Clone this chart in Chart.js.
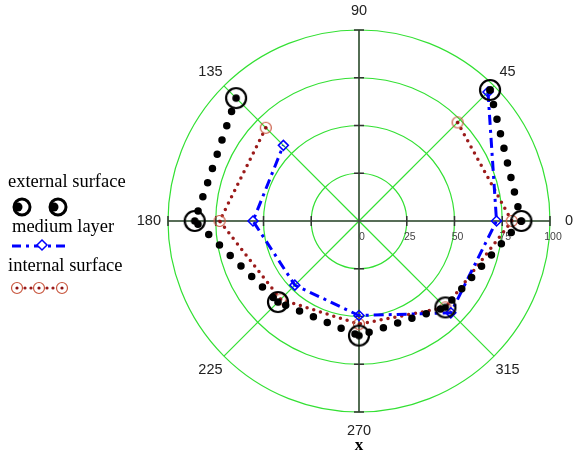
<!DOCTYPE html>
<html>
<head>
<meta charset="utf-8">
<script src="https://cdn.jsdelivr.net/npm/chart.js@4.4.0/dist/chart.umd.min.js"></script>
<style>
  html, body { margin: 0; padding: 0; background: #fff; }
  #wrap { position: relative; width: 573px; height: 457px; }
</style>
</head>
<body>
<div id="wrap"><canvas id="polar" width="573" height="457"></canvas></div>
<script>
// angles run clockwise from the top, the way the radar scale lays them out
const angleLabels = ['90', '45', '0', '315', '270', '225', '180', '135'];
const radialTicks = [0, 25, 50, 75, 100];

// radius at each 45 deg step (nothing at 90)
const externalSurface = [null, 97, 85, 64, 60, 60, 86, 91];
const mediumLayer     = [null, 95.5, 72, 68, 49.5, 47.5, 55.5, 56];
const internalSurface = [null, 73, 80, 64, 54, 58, 73, 69];

const seriesNames = ['external surface', 'medium layer', 'internal surface'];

const GREEN = '#33e033';
const AXIS = '#444';

function ringMarker(size, r, lw, ringColor, dotR, dotColor) {
    const c = document.createElement('canvas');
    c.width = size; c.height = size;
    const g = c.getContext('2d');
    g.strokeStyle = ringColor; g.lineWidth = lw;
    g.beginPath(); g.arc(size / 2, size / 2, r, 0, Math.PI * 2); g.stroke();
    if (dotR) {
        g.fillStyle = dotColor;
        g.beginPath(); g.arc(size / 2, size / 2, dotR, 0, Math.PI * 2); g.fill();
    }
    return c;
}
const extMarker = ringMarker(26, 10, 2.2, '#000', 3.8, '#000');
const intMarker = ringMarker(16, 5.5, 1.2, '#c8563e', 1.6, '#8b1010');

const polarDecor = {
    id: 'polarDecor',
    beforeDatasetsDraw(chart) {
        const r = chart.scales.r;
        const ctx = chart.ctx;
        const cx = r.xCenter, cy = r.yCenter;
        const R = r.getDistanceFromCenterForValue(100);
        ctx.save();
        // the 0-180 and 90-270 axes
        ctx.strokeStyle = AXIS;
        ctx.lineWidth = 1.5;
        ctx.beginPath();
        ctx.moveTo(cx - R, cy); ctx.lineTo(cx + R, cy);
        ctx.moveTo(cx, cy - R); ctx.lineTo(cx, cy + R);
        ctx.stroke();
        // small ticks where rings cross the axes
        ctx.strokeStyle = '#333';
        radialTicks.slice(1).forEach(v => {
            const d = r.getDistanceFromCenterForValue(v);
            ctx.beginPath();
            ctx.moveTo(cx + d, cy - 5); ctx.lineTo(cx + d, cy + 5);
            ctx.moveTo(cx - d, cy - 5); ctx.lineTo(cx - d, cy + 5);
            ctx.moveTo(cx - 5, cy - d); ctx.lineTo(cx + 5, cy - d);
            ctx.moveTo(cx - 5, cy + d); ctx.lineTo(cx + 5, cy + d);
            ctx.stroke();
        });
        // radial values under the 0 axis
        ctx.fillStyle = '#444';
        ctx.font = '10.5px "Liberation Sans", Arial, sans-serif';
        ctx.textAlign = 'center';
        ctx.textBaseline = 'middle';
        radialTicks.forEach(v => {
            const d = r.getDistanceFromCenterForValue(v);
            ctx.fillText(String(v), cx + d + 3, cy + 16);
        });
        ctx.restore();
    },
    afterDraw(chart) {
        const r = chart.scales.r;
        const ctx = chart.ctx;
        ctx.save();
        // angle labels outside the outer ring
        ctx.fillStyle = '#222';
        ctx.font = '14.5px "Liberation Sans", Arial, sans-serif';
        ctx.textAlign = 'center';
        ctx.textBaseline = 'middle';
        angleLabels.forEach((lab, i) => {
            const p = r.getPointPositionForValue(i, 110);
            ctx.fillText(lab, p.x, p.y);
        });
        ctx.font = 'bold 17px "Liberation Serif", "Times New Roman", serif';
        ctx.fillStyle = '#000';
        ctx.fillText('x', r.xCenter, 446);

        // legend, left side
        ctx.textAlign = 'left';
        ctx.font = '18.5px "Liberation Serif", "Times New Roman", serif';
        ctx.fillText(seriesNames[0], 8, 182);
        ctx.fillText(seriesNames[1], 12, 227);
        ctx.fillText(seriesNames[2], 8, 266);

        [22, 58].forEach(x => {
            ctx.strokeStyle = '#000'; ctx.lineWidth = 3;
            ctx.beginPath(); ctx.arc(x, 207, 8, 0, Math.PI * 2); ctx.stroke();
            ctx.fillStyle = '#000';
            ctx.beginPath(); ctx.arc(x - 4, 207, 4.5, 0, Math.PI * 2); ctx.fill();
        });

        ctx.strokeStyle = '#0000ff'; ctx.lineWidth = 3;
        ctx.setLineDash([9, 5, 3, 5]);
        ctx.beginPath(); ctx.moveTo(12, 246); ctx.lineTo(70, 246); ctx.stroke();
        ctx.setLineDash([]);
        ctx.lineWidth = 1.5;
        ctx.fillStyle = '#fff';
        ctx.beginPath();
        ctx.moveTo(42, 240); ctx.lineTo(47, 245); ctx.lineTo(42, 250); ctx.lineTo(37, 245); ctx.closePath();
        ctx.fill(); ctx.stroke();

        ctx.fillStyle = '#9b1b1b';
        [25, 31, 47, 53].forEach(x => {
            ctx.beginPath(); ctx.arc(x, 288, 1.6, 0, Math.PI * 2); ctx.fill();
        });
        [17, 39, 62].forEach(x => ctx.drawImage(intMarker, x - 8, 280));
        ctx.restore();
    }
};

new Chart(document.getElementById('polar'), {
    type: 'radar',
    data: {
        labels: angleLabels,
        datasets: [
            {
                label: seriesNames[0],
                data: externalSurface,
                borderColor: '#000',
                borderWidth: 7.5,
                borderDash: [0, 15],
                borderCapStyle: 'round',
                pointStyle: extMarker,
                pointRadius: 10,
                fill: false,
            },
            {
                label: seriesNames[1],
                data: mediumLayer,
                borderColor: '#0000ff',
                borderWidth: 3,
                borderDash: [10, 5, 3, 5],
                pointStyle: 'rectRot',
                pointRadius: 5,
                pointBorderWidth: 1.5,
                pointBorderColor: '#0000ff',
                pointBackgroundColor: 'rgba(255,255,255,0)',
                fill: false,
            },
            {
                label: seriesNames[2],
                data: internalSurface,
                borderColor: '#9b1b1b',
                borderWidth: 3.5,
                borderDash: [0, 7],
                borderCapStyle: 'round',
                pointStyle: intMarker,
                pointRadius: 6,
                fill: false,
            },
        ]
    },
    options: {
        responsive: false,
        animation: false,
        layout: { padding: { left: 168, right: 23, top: 30, bottom: 45 } },
        plugins: { legend: { display: false }, tooltip: { enabled: false } },
        scales: {
            r: {
                min: 0,
                max: 100,
                startAngle: 0,
                ticks: { display: false, stepSize: 25 },
                pointLabels: { display: false },
                grid: { circular: true, color: GREEN, lineWidth: 1.2 },
                angleLines: { color: GREEN, lineWidth: 1.2 },
            }
        }
    },
    plugins: [polarDecor]
});
</script>
</body>
</html>
